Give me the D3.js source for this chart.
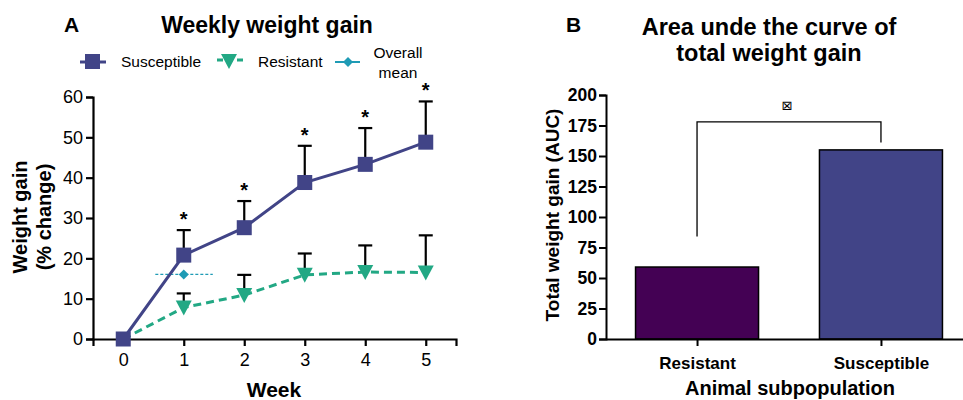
<!DOCTYPE html>
<html>
<head>
<meta charset="utf-8">
<script src="https://cdn.jsdelivr.net/npm/d3@7"></script>
<style>
  body { margin: 0; background: #fff; }
  svg { font-family: "Liberation Sans", Arial, sans-serif; }
</style>
</head>
<body>
<svg width="963" height="400"></svg>
<script>
'use strict';

// panel A data
const weeks = [0, 1, 2, 3, 4, 5];
const susceptibleMean = [0, 20.8, 27.6, 38.8, 43.3, 48.8];
const susceptibleUpper = [0, 27.0, 34.2, 47.9, 52.3, 58.9];
const resistantMean = [0, 7.8, 10.9, 15.9, 16.6, 16.5];
const resistantUpper = [0, 11.3, 15.9, 21.2, 23.2, 25.7];
const overallMean = { week: 1, value: 16.0, from: 0.53, to: 1.48 };
const starWeeks = [1, 2, 3, 4, 5];
const weightTicks = [0, 10, 20, 30, 40, 50, 60];

// panel B data
const groups = ["Resistant", "Susceptible"];
const aucValues = [59, 155];
const aucTicks = [0, 25, 50, 75, 100, 125, 150, 175, 200];
const bracket = { top: 178, left: 84, right: 161 };

const SUSC = "#414487";
const RES = "#22a884";
const MEAN = "#1f9bb5";
const RES_BAR = "#440154";

var svg = d3.select("svg");

/*
 * PANEL A
 */
var xA = d3.scaleLinear().domain([-0.5, 5.5]).range([93, 456]);
var yA = d3.scaleLinear().domain([0, 60]).range([339, 97]);

var gA = svg.append("g");

gA.append("text").attr("x", 64).attr("y", 32).attr("font-size", 21).attr("font-weight", "bold").text("A");
gA.append("text").attr("x", 267).attr("y", 33).attr("text-anchor", "middle")
    .attr("font-size", 23).attr("font-weight", "bold").text("Weekly weight gain");

// axes
var axisYA = gA.append("g").attr("transform", "translate(93,0)")
    .call(d3.axisLeft(yA).tickValues(weightTicks).tickSize(7).tickPadding(3));
var axisXA = gA.append("g").attr("transform", "translate(0,339)")
    .call(d3.axisBottom(xA).tickValues(weeks).tickFormat(d3.format("d")).tickSize(7).tickPadding(5));
[axisYA, axisXA].forEach(function (a) {
    a.select(".domain").attr("stroke-width", 2.2);
    a.selectAll(".tick line").attr("stroke-width", 2.2);
    a.selectAll("text").attr("font-size", 18).attr("fill", "#000").attr("font-family", "Liberation Sans, Arial");
});
axisXA.selectAll("text").attr("dy", "0.85em");

gA.append("text").attr("transform", "translate(27,217) rotate(-90)").attr("text-anchor", "middle")
    .attr("font-size", 20).attr("font-weight", "bold").text("Weight gain");
gA.append("text").attr("transform", "translate(51,217) rotate(-90)").attr("text-anchor", "middle")
    .attr("font-size", 20).attr("font-weight", "bold").text("(% change)");
gA.append("text").attr("x", 274).attr("y", 397).attr("text-anchor", "middle")
    .attr("font-size", 21).attr("font-weight", "bold").text("Week");

// error bars
function errorBars(means, uppers) {
    weeks.forEach(function (w, i) {
        if (uppers[i] <= means[i]) return;
        gA.append("line").attr("x1", xA(w)).attr("x2", xA(w))
            .attr("y1", yA(means[i])).attr("y2", yA(uppers[i]))
            .attr("stroke", "#000").attr("stroke-width", 2.2);
        gA.append("line").attr("x1", xA(w) - 7).attr("x2", xA(w) + 7)
            .attr("y1", yA(uppers[i])).attr("y2", yA(uppers[i]))
            .attr("stroke", "#000").attr("stroke-width", 2.2);
    });
}
errorBars(susceptibleMean, susceptibleUpper);
errorBars(resistantMean, resistantUpper);

// overall mean
gA.append("line").attr("x1", xA(overallMean.from)).attr("x2", xA(overallMean.to))
    .attr("y1", yA(overallMean.value)).attr("y2", yA(overallMean.value))
    .attr("stroke", MEAN).attr("stroke-width", 1.3).attr("stroke-dasharray", "3,2");

var line = d3.line().x(function (d) { return xA(d[0]); }).y(function (d) { return yA(d[1]); });

gA.append("path").datum(weeks.map(function (w, i) { return [w, resistantMean[i]]; }))
    .attr("d", line).attr("fill", "none").attr("stroke", RES).attr("stroke-width", 3)
    .attr("stroke-dasharray", "8,5");
gA.append("path").datum(weeks.map(function (w, i) { return [w, susceptibleMean[i]]; }))
    .attr("d", line).attr("fill", "none").attr("stroke", SUSC).attr("stroke-width", 3);

var triangle = "M-8,-7 L8,-7 L0,8 Z";
var diamond = "M0,-5 L5,0 L0,5 L-5,0 Z";

gA.selectAll(".res").data(weeks.slice(1)).enter().append("path")
    .attr("class", "res")
    .attr("transform", function (w) { return "translate(" + xA(w) + "," + yA(resistantMean[w]) + ")"; })
    .attr("d", triangle).attr("fill", RES);

gA.append("path")
    .attr("transform", "translate(" + xA(overallMean.week) + "," + yA(overallMean.value) + ")")
    .attr("d", diamond).attr("fill", MEAN);

gA.selectAll(".susc").data(weeks).enter().append("rect")
    .attr("class", "susc")
    .attr("x", function (w) { return xA(w) - 7.5; })
    .attr("y", function (w) { return yA(susceptibleMean[w]) - 7.5; })
    .attr("width", 15).attr("height", 15).attr("fill", SUSC);

gA.selectAll(".star").data(starWeeks).enter().append("text")
    .attr("class", "star")
    .attr("x", function (w) { return xA(w); })
    .attr("y", function (w) { return yA(susceptibleUpper[w]) - 4; })
    .attr("text-anchor", "middle").attr("font-size", 20).attr("font-weight", "bold")
    .text("*");

// legend
var lg = gA.append("g");
lg.append("line").attr("x1", 80).attr("x2", 106).attr("y1", 62).attr("y2", 62)
    .attr("stroke", SUSC).attr("stroke-width", 3);
lg.append("rect").attr("x", 85).attr("y", 54).attr("width", 15).attr("height", 15).attr("fill", SUSC);
lg.append("text").attr("x", 121).attr("y", 67).attr("font-size", 15.5).text("Susceptible");

lg.append("line").attr("x1", 217).attr("x2", 243).attr("y1", 60).attr("y2", 60)
    .attr("stroke", RES).attr("stroke-width", 3).attr("stroke-dasharray", "6,4");
lg.append("path").attr("transform", "translate(229,61)").attr("d", triangle).attr("fill", RES);
lg.append("text").attr("x", 258).attr("y", 67).attr("font-size", 15.5).text("Resistant");

lg.append("line").attr("x1", 335).attr("x2", 360).attr("y1", 62).attr("y2", 62)
    .attr("stroke", MEAN).attr("stroke-width", 2);
lg.append("path").attr("transform", "translate(348,62)").attr("d", diamond).attr("fill", MEAN);
lg.append("text").attr("x", 398).attr("y", 58).attr("text-anchor", "middle").attr("font-size", 15.5).text("Overall");
lg.append("text").attr("x", 398).attr("y", 78).attr("text-anchor", "middle").attr("font-size", 15.5).text("mean");

/*
 * PANEL B
 */
var xB = d3.scalePoint().domain(groups).range([606, 972]).padding(0.495);
var yB = d3.scaleLinear().domain([0, 200]).range([339, 95]);
var BAR_W = 123;

var gB = svg.append("g");

gB.append("text").attr("x", 566).attr("y", 32).attr("font-size", 21).attr("font-weight", "bold").text("B");
gB.append("text").attr("x", 769).attr("y", 35).attr("text-anchor", "middle")
    .attr("font-size", 23.5).attr("font-weight", "bold").text("Area unde the curve of");
gB.append("text").attr("x", 769).attr("y", 61).attr("text-anchor", "middle")
    .attr("font-size", 23.5).attr("font-weight", "bold").text("total weight gain");

gB.selectAll(".bar").data(groups).enter().append("rect")
    .attr("class", "bar")
    .attr("x", function (g) { return xB(g) - BAR_W / 2; })
    .attr("width", BAR_W)
    .attr("y", function (g, i) { return yB(aucValues[i]); })
    .attr("height", function (g, i) { return yB(0) - yB(aucValues[i]); })
    .attr("fill", function (g, i) { return i === 0 ? RES_BAR : SUSC; })
    .attr("stroke", "#000").attr("stroke-width", 1.5);

var axisYB = gB.append("g").attr("transform", "translate(606,0)")
    .call(d3.axisLeft(yB).tickValues(aucTicks).tickSize(7).tickPadding(2));
var axisXB = gB.append("g").attr("transform", "translate(0,339)")
    .call(d3.axisBottom(xB).tickSize(7).tickPadding(11).tickSizeOuter(0));
axisXB.select(".domain").attr("d", "M606,0.5H963");
[axisYB, axisXB].forEach(function (a) {
    a.select(".domain").attr("stroke-width", 2);
    a.selectAll(".tick line").attr("stroke-width", 2);
    a.selectAll("text").attr("fill", "#000").attr("font-family", "Liberation Sans, Arial").attr("font-weight", "bold");
});
axisYB.selectAll("text").attr("font-size", 17.5);
axisXB.selectAll("text").attr("font-size", 17);

gB.append("text").attr("transform", "translate(559,215) rotate(-90)").attr("text-anchor", "middle")
    .attr("font-size", 19).attr("font-weight", "bold").text("Total weight gain (AUC)");
gB.append("text").attr("x", 790).attr("y", 395).attr("text-anchor", "middle")
    .attr("font-size", 20).attr("font-weight", "bold").text("Animal subpopulation");

// significance bracket
var bx0 = xB("Resistant");
var bx1 = xB("Susceptible");
gB.append("path")
    .attr("d", "M" + bx0 + "," + yB(bracket.left) + "V" + yB(bracket.top) + "H" + bx1 + "V" + yB(bracket.right))
    .attr("fill", "none").attr("stroke", "#000").attr("stroke-width", 1.3);
gB.append("text").attr("x", (bx0 + bx1) / 2 - 2).attr("y", 110).attr("text-anchor", "middle")
    .attr("font-family", "DejaVu Sans").attr("font-size", 13).text("\u22A0");
</script>
</body>
</html>
